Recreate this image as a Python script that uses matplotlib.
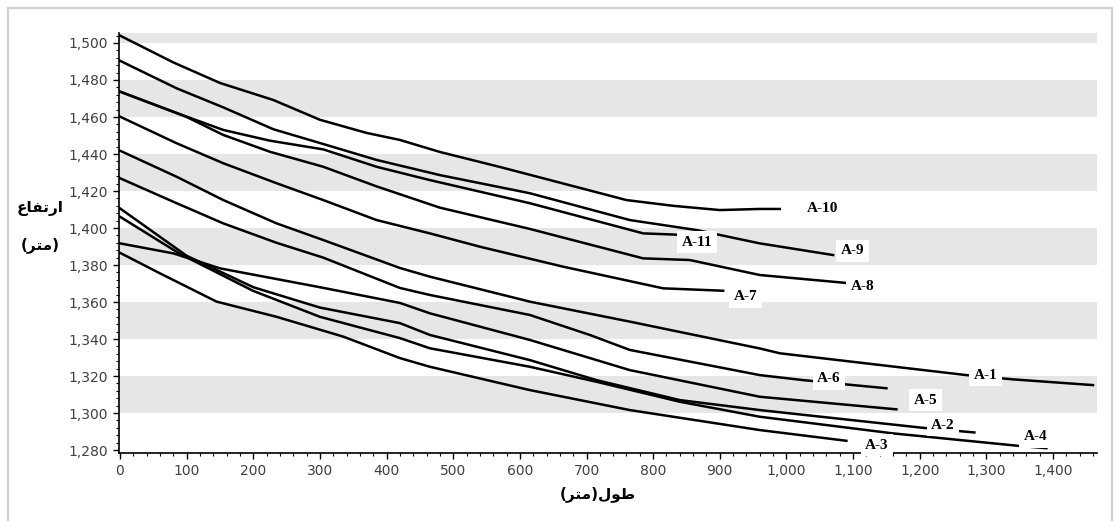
import matplotlib
matplotlib.use("Agg")
import matplotlib.pyplot as plt
from matplotlib.patches import Rectangle
from matplotlib.ticker import MultipleLocator, FuncFormatter

# profile data (length m, elevation m)
a10_x = [0, 80, 150, 230, 300, 370, 420, 480, 570, 760, 830, 900, 960, 990]
a10_y = [1504, 1489.5, 1478.4, 1469.2, 1458.5, 1451.4, 1447.6, 1441.1, 1433.0, 1415.1, 1412.0, 1409.7, 1410.3, 1410.3]
a9_x = [0, 85, 155, 230, 305, 385, 480, 615, 765, 865, 960, 1070]
a9_y = [1490.4, 1475.5, 1465.2, 1453.4, 1445.4, 1436.8, 1428.6, 1418.8, 1404.3, 1398.9, 1391.7, 1385.4]
a11_x = [0, 100, 155, 225, 305, 385, 465, 615, 785, 850]
a11_y = [1473.7, 1460.2, 1453.0, 1447.2, 1442.5, 1433.1, 1425.9, 1413.4, 1397.1, 1396.2]
a8_x = [0, 100, 155, 225, 305, 385, 480, 615, 785, 855, 960, 1090]
a8_y = [1473.7, 1460.0, 1450.3, 1441.2, 1433.1, 1422.5, 1411.0, 1399.5, 1383.6, 1382.7, 1374.6, 1370.3]
a7_x = [0, 85, 155, 235, 305, 385, 465, 540, 665, 815, 905]
a7_y = [1460.2, 1445.8, 1435.0, 1424.2, 1415.1, 1404.3, 1397.1, 1389.9, 1379.1, 1367.4, 1366.1]
a1_x = [0, 85, 155, 235, 305, 420, 465, 615, 765, 960, 990, 1270, 1340, 1460]
a1_y = [1441.8, 1427.7, 1415.1, 1402.5, 1393.5, 1378.4, 1373.7, 1360.2, 1349.4, 1334.9, 1332.3, 1320.5, 1318.2, 1315.1]
a6_x = [0, 85, 155, 235, 305, 420, 465, 615, 705, 765, 960, 1025, 1100, 1150]
a6_y = [1426.9, 1413.4, 1402.5, 1392.0, 1384.0, 1367.6, 1363.8, 1353.0, 1342.2, 1334.1, 1320.5, 1317.8, 1315.1, 1313.4]
a5_x = [0, 80, 150, 300, 420, 465, 615, 765, 960, 1165]
a5_y = [1391.7, 1386.3, 1378.2, 1368.0, 1359.5, 1353.9, 1339.5, 1323.2, 1308.8, 1302.0]
a2_x = [0, 100, 200, 300, 420, 465, 615, 715, 840, 960, 1205, 1282]
a2_y = [1410.6, 1385.0, 1368.0, 1357.0, 1348.6, 1342.2, 1328.6, 1317.8, 1307.0, 1301.6, 1292.0, 1289.5]
a4_x = [0, 90, 200, 300, 420, 465, 615, 715, 840, 960, 1160, 1347, 1390]
a4_y = [1406.1, 1386.0, 1366.0, 1352.0, 1340.5, 1335.0, 1325.0, 1316.9, 1306.1, 1298.0, 1289.0, 1282.3, 1281.0]
a3_x = [0, 60, 145, 235, 335, 420, 465, 615, 765, 960, 1090]
a3_y = [1386.6, 1375.5, 1360.2, 1352.0, 1341.3, 1329.7, 1325.0, 1312.4, 1301.6, 1290.8, 1285.0]

series = [(a10_x, a10_y), (a9_x, a9_y), (a11_x, a11_y), (a8_x, a8_y), (a7_x, a7_y),
          (a1_x, a1_y), (a6_x, a6_y), (a5_x, a5_y), (a2_x, a2_y), (a4_x, a4_y), (a3_x, a3_y)]

# label name and its spot on the chart
label_names = ["A-10", "A-11", "A-9", "A-8", "A-7", "A-1", "A-6", "A-5", "A-2", "A-4", "A-3"]
label_x = [1054, 866, 1099, 1114, 939, 1299, 1064, 1209, 1235, 1374, 1136]
label_y = [1410.3, 1392.4, 1387.7, 1368.6, 1362.9, 1320.5, 1318.4, 1307.0, 1293.5, 1287.2, 1282.7]

bands = [1300, 1340, 1380, 1420, 1460, 1500]

W, H = 1117, 521
fig = plt.figure(figsize=(W / 100, H / 100), dpi=100)
ax = fig.add_axes([119 / W, 1 - 453 / H, (1097 - 119) / W, (453 - 33) / H])

for b in bands:
    ax.axhspan(b, b + 20, color="#e6e6e6", lw=0, zorder=0)

for xs, ys in series:
    ax.plot(xs, ys, color="black", lw=1.8, zorder=2, solid_joinstyle="round")

for name, lx, ly in zip(label_names, label_x, label_y):
    ax.text(lx, ly, name, ha="center", va="center", fontsize=11, fontweight="bold",
            family="Liberation Serif", zorder=4,
            bbox=dict(boxstyle="square,pad=0.3", fc="white", ec="none"))

ax.set_xlim(-1.5, 1466)
ax.set_ylim(1278.4, 1505.4)
ax.spines["top"].set_visible(False)
ax.spines["right"].set_visible(False)
for s in ("left", "bottom"):
    ax.spines[s].set_linewidth(1.2)
    ax.spines[s].set_zorder(3)

ax.xaxis.set_major_locator(MultipleLocator(100))
ax.xaxis.set_minor_locator(MultipleLocator(20))
ax.yaxis.set_major_locator(MultipleLocator(20))
ax.yaxis.set_minor_locator(MultipleLocator(4))
fmt = FuncFormatter(lambda v, p: f"{int(round(v)):,}")
ax.xaxis.set_major_formatter(fmt)
ax.yaxis.set_major_formatter(fmt)
ax.tick_params(which="major", length=4, width=1, labelsize=10, labelcolor="#404040", pad=4)
ax.tick_params(which="minor", length=2, width=0.8)

# arabic labels, pre-shaped in visual order
ylab1 = "\uFEC9\uFE8E\uFED4\uFE97\uFEAD\uFE8D"          # ارتفاع
ylab2 = "(\uFEAE\uFE98\uFEE3)"                          # (متر)
xlab = "(\uFEAE\uFE98\uFEE3)\uFEDD\uFEEE\uFEC3"          # طول(متر)
fig.text(40 / W, 1 - 208 / H, ylab1, ha="center", va="center", fontsize=11, fontweight="bold",
         family="DejaVu Sans")
fig.text(40 / W, 1 - 245 / H, ylab2, ha="center", va="center", fontsize=11, fontweight="bold",
         family="DejaVu Sans")
fig.text(598 / W, 1 - 494 / H, xlab, ha="center", va="center", fontsize=11, fontweight="bold",
         family="DejaVu Sans")

fig.patches.append(Rectangle((8 / W, -0.05), 1104 / W, 1.05 - 8 / H, transform=fig.transFigure,
                             fill=False, ec="#d0d0d0", lw=1.5))

fig.savefig("out.png", dpi=100, facecolor="white")
